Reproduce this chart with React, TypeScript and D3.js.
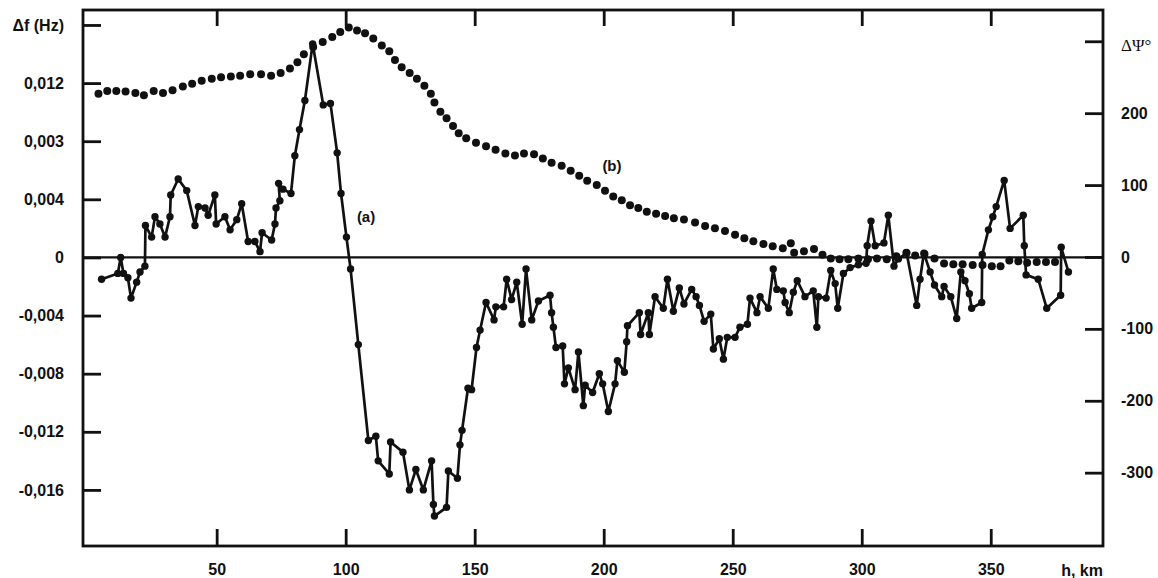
import React, { useEffect, useRef } from 'react';
import * as d3 from 'd3';

// series (a): frequency shift, Hz
const heightA = [
  5.4, 11.7, 12.8, 13.9, 15.6, 16.8, 19.0, 20.3, 22.2, 22.4,
  24.8, 26.1, 28.0, 30.0, 31.9, 32.2, 35.1, 38.4, 41.6, 42.9,
  45.5, 46.7, 49.3, 49.8, 53.2, 55.2, 57.8, 59.7, 62.2, 64.8,
  66.8, 67.6, 71.3, 72.6, 73.0, 74.5, 74.0, 75.7, 78.8, 80.3,
  82.1, 84.2, 87.2, 91.3, 94.1, 96.7, 98.2, 100.3, 101.9, 104.9,
  108.8, 111.7, 112.6, 116.9, 117.4, 122.2, 124.7, 127.2, 130.1, 133.3,
  134.0, 134.4, 139.1, 139.8, 143.3, 144.3, 145.1, 147.4, 148.8, 150.7,
  152.1, 154.4, 157.5, 158.2, 161.2, 162.4, 164.3, 166.3, 168.4, 169.9,
  172.1, 174.7, 179.2, 179.8, 180.5, 181.5, 184.1, 184.8, 186.3, 188.9,
  190.2, 192.1, 192.8, 195.7, 198.3, 199.6, 201.8, 204.4, 205.3, 208.0,
  208.9, 209.2, 213.8, 214.3, 217.3, 217.7, 219.9, 223.1, 224.7, 227.0,
  229.3, 231.1, 234.1, 235.8, 237.1, 238.9, 241.5, 242.5, 244.8, 246.4,
  247.9, 250.9, 252.8, 255.7, 256.7, 259.4, 260.6, 263.8, 265.7, 267.1,
  269.6, 270.3, 271.9, 273.5, 275.0, 278.0, 281.2, 282.6, 283.2, 286.2,
  288.0, 289.7, 290.7, 292.9, 295.5, 298.7, 301.7, 302.1, 303.6, 305.2,
  308.6, 310.3, 312.5, 314.2, 317.4, 321.3, 322.6, 324.1, 326.5, 328.2,
  331.0, 331.9, 334.5, 336.8, 338.4, 340.0, 341.7, 342.6, 346.5, 346.7,
  349.1, 350.8, 352.1, 355.2, 357.5, 362.6, 363.0, 363.7, 368.4, 371.7,
  377.1, 377.3, 380.1
];
const dfA = [
  -0.0015, -0.0011, 0.0000, -0.0011, -0.0014, -0.0028, -0.0017, -0.0010, -0.0006, 0.0022,
  0.0014, 0.0028, 0.0023, 0.0014, 0.0028, 0.0043, 0.0054, 0.0046, 0.0022, 0.0035,
  0.0034, 0.0029, 0.0043, 0.0023, 0.0028, 0.0019, 0.0026, 0.0037, 0.0011, 0.0011,
  0.0004, 0.0017, 0.0012, 0.0023, 0.0034, 0.0039, 0.0051, 0.0047, 0.0044, 0.0070,
  0.0088, 0.0108, 0.0147, 0.0105, 0.0106, 0.0072, 0.0044, 0.0014, -0.0008, -0.0060,
  -0.0126, -0.0123, -0.0140, -0.0149, -0.0127, -0.0134, -0.0160, -0.0146, -0.0160, -0.0140,
  -0.0170, -0.0178, -0.0172, -0.0147, -0.0152, -0.0129, -0.0119, -0.0090, -0.0091, -0.0062,
  -0.0050, -0.0031, -0.0043, -0.0034, -0.0034, -0.0015, -0.0029, -0.0017, -0.0046, -0.0008,
  -0.0043, -0.0030, -0.0026, -0.0038, -0.0048, -0.0062, -0.0061, -0.0087, -0.0076, -0.0091,
  -0.0065, -0.0102, -0.0088, -0.0093, -0.0080, -0.0087, -0.0106, -0.0087, -0.0071, -0.0079,
  -0.0058, -0.0047, -0.0038, -0.0053, -0.0038, -0.0053, -0.0027, -0.0035, -0.0015, -0.0037,
  -0.0021, -0.0032, -0.0022, -0.0027, -0.0033, -0.0044, -0.0039, -0.0063, -0.0056, -0.0070,
  -0.0055, -0.0055, -0.0048, -0.0046, -0.0028, -0.0038, -0.0027, -0.0035, -0.0008, -0.0022,
  -0.0023, -0.0031, -0.0038, -0.0024, -0.0016, -0.0027, -0.0023, -0.0048, -0.0027, -0.0028,
  -0.0009, -0.0018, -0.0035, -0.0011, -0.0007, -0.0005, -0.0004, 0.0008, 0.0025, 0.0008,
  0.0010, 0.0029, -0.0006, -0.0001, 0.0003, -0.0033, -0.0015, 0.0003, -0.0010, -0.0019,
  -0.0027, -0.0020, -0.0027, -0.0042, -0.0010, -0.0016, -0.0025, -0.0035, -0.0031, 0.0002,
  0.0019, 0.0028, 0.0035, 0.0053, 0.0020, 0.0029, 0.0008, -0.0012, -0.0015, -0.0035,
  -0.0026, 0.0007, -0.0010
];

// series (b): phase shift, degrees
const heightB = [
  4.2, 7.6, 11.1, 14.7, 18.5, 21.8, 25.6, 29.2, 32.9, 36.9,
  40.5, 44.2, 48.1, 51.7, 55.5, 59.1, 63.0, 67.2, 71.1, 74.8,
  78.4, 81.3, 83.8, 87.4, 91.1, 94.8, 97.9, 101.2, 104.4, 107.5,
  110.7, 114.0, 116.9, 119.1, 121.7, 124.8, 127.6, 130.5, 133.0, 134.4,
  136.7, 139.1, 141.6, 143.8, 146.7, 150.5, 154.4, 158.1, 161.9, 165.6,
  169.1, 173.0, 176.4, 179.8, 183.7, 187.2, 190.5, 193.6, 197.3, 200.5,
  203.7, 207.0, 210.2, 213.4, 216.7, 220.3, 223.8, 227.2, 231.1, 235.4,
  239.3, 243.1, 247.0, 250.9, 254.5, 258.0, 261.9, 265.5, 269.4, 272.5,
  273.8, 277.6, 281.5, 284.8, 288.0, 291.4, 294.8, 298.7, 302.4, 305.9,
  309.7, 313.4, 317.3, 320.7, 324.3, 328.2, 331.9, 335.5, 339.1, 343.0,
  346.8, 350.4, 353.8, 357.2, 360.7, 364.1, 367.8, 371.4, 374.9
];
const dpsiB = [
  227, 231, 231, 230, 228, 225, 231, 228, 232, 237,
  241, 245, 248, 250, 251, 252, 254, 254, 252, 256,
  262, 271, 282, 292, 299, 306, 313, 319, 315, 311,
  304, 294, 286, 274, 264, 256, 248, 238, 227, 215,
  202, 193, 182, 172, 165, 159, 154, 149, 144, 141,
  144, 143, 137, 131, 127, 120, 113, 106, 100, 92,
  84, 79, 72, 68, 63, 60, 57, 54, 52, 48,
  43, 40, 36, 31, 26, 22, 18, 15, 12, 19,
  6, 8, 11, 3, -2, -3, -3, -2, -3, -2,
  -3, 1, 6, 2, 4, -2, -9, -10, -10, -11,
  -11, -13, -13, -5, -6, -8, -7, -7, -7
];

const xTicks = [50, 100, 150, 200, 250, 300, 350];
const leftTicks = [0.016, 0.012, 0.008, 0.004, 0, -0.004, -0.008, -0.012, -0.016];
const leftTickLabels = ['Δf (Hz)', '0,012', '0,003', '0,004', '0', '-0,004', '-0,008', '-0,012', '-0,016'];
const rightTicks = [300, 200, 100, 0, -100, -200, -300];
const rightTickLabels = ['', '200', '100', '0', '-100', '-200', '-300'];

const W = 1158;
const H = 578;
const FONT = "'Liberation Sans', Arial, Helvetica, sans-serif";

export default function App() {
  const svgRef = useRef<SVGSVGElement | null>(null);

  useEffect(() => {
    if (!svgRef.current) return;
    const svg = d3.select(svgRef.current);
    svg.selectAll('*').remove();

    const left = 83, right = 1103, top = 10, bottom = 546;

    const x = d3.scaleLinear().domain([-1.8, 393.5]).range([left, right]);
    const yL = d3.scaleLinear().domain([-0.01986, 0.01703]).range([bottom, top]);
    const yR = d3.scaleLinear().domain([-402, 343.5]).range([bottom, top]);

    const ink = '#111';

    // frame
    svg.append('rect')
      .attr('x', left).attr('y', top)
      .attr('width', right - left).attr('height', bottom - top)
      .attr('fill', 'none').attr('stroke', ink).attr('stroke-width', 2.8);

    // zero line
    svg.append('line')
      .attr('x1', left).attr('x2', right)
      .attr('y1', yL(0)).attr('y2', yL(0))
      .attr('stroke', ink).attr('stroke-width', 2.2);

    const styleAxis = (g: any) => {
      g.select('.domain').remove();
      g.selectAll('.tick line').attr('stroke', ink).attr('stroke-width', 2.8);
      g.selectAll('text')
        .attr('fill', ink)
        .attr('font-size', '16px')
        .attr('font-weight', 'bold')
        .attr('font-family', FONT);
    };

    // left axis
    svg.append('g')
      .attr('transform', `translate(${left},0)`)
      .call(d3.axisLeft(yL).tickValues(leftTicks).tickSize(-18).tickPadding(19)
        .tickFormat((d, i) => leftTickLabels[i]))
      .call(styleAxis);

    // right axis
    svg.append('g')
      .attr('transform', `translate(${right},0)`)
      .call(d3.axisRight(yR).tickValues(rightTicks).tickSize(-18).tickPadding(18)
        .tickFormat((d, i) => rightTickLabels[i]))
      .call(styleAxis);

    svg.append('text')
      .attr('x', right + 18).attr('y', yR(300) + 4)
      .attr('dy', '0.35em')
      .attr('fill', ink)
      .attr('font-size', '17px')
      .attr('font-family', "'Liberation Serif', 'DejaVu Serif', serif")
      .text('ΔΨ°');

    // bottom axis
    svg.append('g')
      .attr('transform', `translate(0,${bottom})`)
      .call(d3.axisBottom(x).tickValues(xTicks).tickSize(-17).tickPadding(18)
        .tickFormat(d => String(d)))
      .call(styleAxis);

    svg.append('text')
      .attr('x', right).attr('y', bottom + 30)
      .attr('text-anchor', 'end')
      .attr('fill', ink)
      .attr('font-size', '16px')
      .attr('font-weight', 'bold')
      .attr('font-family', FONT)
      .text('h, km');

    // top ticks
    svg.append('g')
      .attr('transform', `translate(0,${top})`)
      .call(d3.axisTop(x).tickValues(xTicks).tickSize(-16).tickFormat(() => ''))
      .call(styleAxis);

    // series (b): dots only
    svg.append('g')
      .selectAll('circle')
      .data(heightB)
      .join('circle')
      .attr('cx', d => x(d))
      .attr('cy', (d, i) => yR(dpsiB[i]))
      .attr('r', 4)
      .attr('fill', ink);

    // series (a): line with dots
    const pts = heightA.map((h, i) => [h, dfA[i]] as [number, number]);
    const line = d3.line<[number, number]>()
      .x(d => x(d[0]))
      .y(d => yL(d[1]));

    svg.append('path')
      .datum(pts)
      .attr('fill', 'none')
      .attr('stroke', ink)
      .attr('stroke-width', 2.7)
      .attr('stroke-linejoin', 'round')
      .attr('d', line);

    svg.append('g')
      .selectAll('circle')
      .data(pts)
      .join('circle')
      .attr('cx', d => x(d[0]))
      .attr('cy', d => yL(d[1]))
      .attr('r', 3.7)
      .attr('fill', ink);

    // curve labels
    svg.append('text')
      .attr('x', x(107.9)).attr('y', yL(0.00283))
      .attr('dy', '0.35em')
      .attr('text-anchor', 'middle')
      .attr('fill', ink)
      .attr('font-size', '15px')
      .attr('font-weight', 'bold')
      .attr('font-family', FONT)
      .text('(a)');

    svg.append('text')
      .attr('x', x(203.2)).attr('y', yR(127))
      .attr('dy', '0.35em')
      .attr('text-anchor', 'middle')
      .attr('fill', ink)
      .attr('font-size', '15px')
      .attr('font-weight', 'bold')
      .attr('font-family', FONT)
      .text('(b)');
  }, []);

  return (
    <svg
      ref={svgRef}
      width={W}
      height={H}
      style={{ position: 'absolute', left: 0, top: 0, background: '#fff' }}
    />
  );
}
